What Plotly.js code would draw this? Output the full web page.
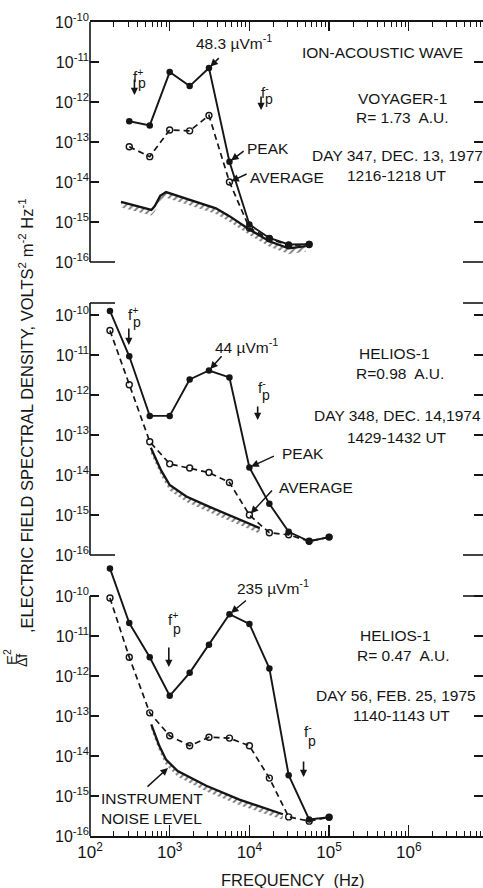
<!DOCTYPE html>
<html><head><meta charset="utf-8">
<script src="https://cdn.plot.ly/plotly-3.0.1.min.js"></script>
<style>html,body{margin:0;padding:0;background:#fff;overflow:hidden}#chart{width:483px;height:888px}</style>
</head><body><div id="chart"></div>
<script>
// ---------------- DATA ----------------
// Panel 1: Voyager-1, Dec 13 1977
const VOY_F      = [311, 562, 1000, 1780, 3110, 5620, 10000, 17800, 31100, 56200];
const VOY_PEAK   = [3.3e-13, 2.6e-13, 5.6e-12, 2.5e-12, 7.1e-12, 3.2e-14, 8.7e-16, 4.0e-16, 2.75e-16, 2.8e-16];
const VOY_AVG    = [7.6e-14, 4.3e-14, 2.0e-13, 1.9e-13, 4.6e-13, 1.0e-14, 7.1e-16, 3.8e-16, 2.6e-16, 2.75e-16];
const VOY_NOISE_F = [245, 590, 650, 760, 900, 1780, 3800, 5620, 10000, 17800, 31100, 51000];
const VOY_NOISE   = [3.2e-15, 2.0e-15, 2.5e-15, 4.5e-15, 5.6e-15, 3.6e-15, 2.2e-15, 1.4e-15, 6.5e-16, 3.3e-16, 2.2e-16, 2.5e-16];
// Panel 2: Helios-1, Dec 14 1974
const HA_F      = [178, 311, 562, 1000, 1780, 3110, 5620, 10000, 17800, 31100, 56200, 100000];
const HA_PEAK   = [1.26e-10, 9.3e-12, 3.0e-13, 3.0e-13, 2.45e-12, 4.1e-12, 2.75e-12, 1.55e-14, 1.9e-15, 3.8e-16, 2.2e-16, 2.8e-16];
const HA_AVG    = [4.1e-11, 1.8e-12, 6.8e-14, 1.9e-14, 1.5e-14, 1.15e-14, 6.5e-15, 1.0e-15, 3.6e-16, 3.2e-16, 2.2e-16, 2.8e-16];
const HA_NOISE_F = [580, 780, 1000, 1620, 3160, 6170, 13500];
const HA_NOISE   = [4.8e-14, 1.3e-14, 5.6e-15, 2.9e-15, 1.6e-15, 9.1e-16, 4.7e-16];
// Panel 3: Helios-1, Feb 25 1975
const HB_F      = [178, 311, 562, 1000, 1780, 3110, 5620, 10000, 17800, 31100, 56200, 100000];
const HB_PEAK   = [4.9e-10, 2.1e-11, 2.95e-12, 3.2e-13, 1.2e-12, 6.0e-12, 3.5e-11, 2.0e-11, 1.55e-12, 3.3e-15, 2.6e-16, 2.95e-16];
const HB_AVG    = [8.9e-11, 2.95e-12, 1.2e-13, 3.2e-14, 1.8e-14, 2.95e-14, 2.8e-14, 1.8e-14, 2.8e-15, 3.0e-16, 2.35e-16, 2.95e-16];
const HB_NOISE_F = [587, 740, 900, 1260, 2880, 7500, 26300];
const HB_NOISE   = [6.2e-14, 1.8e-14, 8.1e-15, 4.2e-15, 1.8e-15, 8.1e-16, 3.5e-16];
// plasma frequency markers (Hz): [top, middle, bottom]
const FP_PLUS  = [361, 307, 975];
const FP_MINUS = [14000, 12700, 47800];
// tick labels
const X_TICKS = [1e2, 1e3, 1e4, 1e5, 1e6];
const X_TICKTEXT = ['10<sup>2</sup>', '10<sup>3</sup>', '10<sup>4</sup>', '10<sup>5</sup>', '10<sup>6</sup>'];
const Y_TICKS = [1e-16, 1e-15, 1e-14, 1e-13, 1e-12, 1e-11, 1e-10];
const Y_TICKTEXT = ['10<sup>-16</sup>', '10<sup>-15</sup>', '10<sup>-14</sup>', '10<sup>-13</sup>', '10<sup>-12</sup>', '10<sup>-11</sup>', '10<sup>-10</sup>'];

// ---------------- GEOMETRY ----------------
const W = 483, H = 888, ML = 90, MR = 0, MT = 22, MB = 52;
const PW = W - ML - MR, PH = H - MT - MB;
const DECX = 79.7, DECY = 40;
const px = p => (p - ML) / PW;
const py = p => (H - MB - p) / PH;
const XR = [2, 2 + PW / DECX];
const FONT = 'Liberation Sans, Arial, sans-serif';
const INK = '#151515';
const HATCH = Math.pow(10, -0.14);
const TS = 15.5; // panel text size

const MINOR = [];
for (let d = 1e2; d < 1e7; d *= 10) for (let k = 2; k <= 9; k++) MINOR.push(k * d);

const panels = [
  {xa: 'x',  ya: 'y',  f: VOY_F, peak: VOY_PEAK, avg: VOY_AVG, nf: VOY_NOISE_F, n: VOY_NOISE},
  {xa: 'x2', ya: 'y2', f: HA_F,  peak: HA_PEAK,  avg: HA_AVG,  nf: HA_NOISE_F,  n: HA_NOISE},
  {xa: 'x3', ya: 'y3', f: HB_F,  peak: HB_PEAK,  avg: HB_AVG,  nf: HB_NOISE_F,  n: HB_NOISE}
];

const traces = [];
panels.forEach(p => {
  traces.push({x: p.nf, y: p.n.map(v => v * HATCH), xaxis: p.xa, yaxis: p.ya, mode: 'lines',
    line: {width: 0, color: 'rgba(0,0,0,0)'}, hoverinfo: 'skip', showlegend: false});
  traces.push({x: p.nf, y: p.n, xaxis: p.xa, yaxis: p.ya, mode: 'lines', fill: 'tonexty',
    fillcolor: 'rgba(0,0,0,0)',
    fillpattern: {shape: '/', fgcolor: '#000', size: 5, solidity: 0.4, fillmode: 'overlay'},
    line: {width: 2.3, color: INK}, showlegend: false});
  traces.push({x: p.f, y: p.avg, xaxis: p.xa, yaxis: p.ya, mode: 'lines+markers', cliponaxis: false,
    line: {width: 1.7, color: INK, dash: '6px,4px'},
    marker: {symbol: 'circle-open', size: 6, color: INK, line: {width: 1.4, color: INK}}, showlegend: false});
  traces.push({x: p.f, y: p.peak, xaxis: p.xa, yaxis: p.ya, mode: 'lines+markers', cliponaxis: false,
    line: {width: 1.9, color: INK},
    marker: {symbol: 'circle', size: 6.5, color: INK}, showlegend: false});
});

const tickFont = {family: FONT, size: 16, color: INK};
const yBase = {type: 'log', tickvals: Y_TICKS, ticktext: Y_TICKTEXT, ticks: 'inside', ticklen: 9, tickwidth: 1.4,
  tickcolor: INK, mirror: 'ticks', showline: false, showgrid: false, zeroline: false, tickfont: tickFont};
const xBase = {type: 'log', range: XR, domain: [0, 1], showgrid: false, zeroline: false, tickvals: X_TICKS,
  showline: true, linewidth: 1.6, linecolor: INK, ticks: 'inside', tickwidth: 1.3, tickcolor: INK};

const Dtop = [py(262), 1], Dmid = [py(555), py(303)], Dbot = [0, py(564)];
const layout = {
  width: W, height: H, margin: {l: ML, r: MR, t: MT, b: MB},
  paper_bgcolor: '#fff', plot_bgcolor: 'rgba(0,0,0,0)', showlegend: false,
  font: {family: FONT, color: INK},
  xaxis: Object.assign({}, xBase, {anchor: 'y', side: 'top', ticklen: 9, showticklabels: false,
    minor: {ticks: 'inside', ticklen: 5, tickwidth: 1, tickcolor: INK, tickvals: MINOR, showgrid: false}}),
  xaxis2: {type: 'log', range: XR, anchor: 'y2', visible: false},
  xaxis3: Object.assign({}, xBase, {anchor: 'y3', side: 'bottom', ticklen: 11, ticktext: X_TICKTEXT,
    tickfont: {family: FONT, size: 17, color: INK},
    minor: {ticks: 'inside', ticklen: 5, tickwidth: 1, tickcolor: INK, tickvals: MINOR, showgrid: false}}),
  yaxis: Object.assign({}, yBase, {domain: Dtop, anchor: 'x', range: [-16, -16 + (262 - 22) / DECY]}),
  yaxis2: Object.assign({}, yBase, {domain: Dmid, anchor: 'x2', range: [-16, -16 + (555 - 303) / DECY]}),
  yaxis3: Object.assign({}, yBase, {domain: Dbot, anchor: 'x3', range: [-16, -16 + (836 - 564) / DECY]}),
  shapes: [], annotations: []
};

// axis frame pieces
const ln = (x0, y0, x1, y1) => ({type: 'line', xref: 'paper', yref: 'paper', x0: px(x0), y0: py(y0), x1: px(x1), y1: py(y1),
  line: {color: INK, width: 1.6}});
layout.shapes.push(
  ln(90, 262, 90, 22), ln(90, 262, 115, 262), ln(463, 262, 483, 262),
  ln(90, 555, 90, 303), ln(90, 555, 115, 555), ln(90, 303, 115, 303), ln(463, 555, 483, 555), ln(463, 303, 483, 303),
  ln(90, 836, 90, 596), ln(463, 596, 483, 596)
);

const A = layout.annotations;
const txt = (text, x, y, o) => A.push(Object.assign({xref: 'paper', yref: 'paper', x: px(x), y: py(y), text: text,
  showarrow: false, xanchor: 'center', yanchor: 'middle', font: {family: FONT, size: TS, color: INK}}, o || {}));
const arr = (xa, ya, f, v, tail, tip) => A.push({xref: xa, yref: ya, x: Math.log10(f), y: Math.log10(v), text: '',
  showarrow: true, ax: tail[0] - tip[0], ay: tail[1] - tip[1], arrowhead: 2, arrowsize: 1, arrowwidth: 1.5,
  arrowcolor: INK, standoff: 2});
const fp = (xa, f, sign, fy, a0, a1) => {
  const lx = Math.log10(f);
  A.push({xref: xa, yref: 'paper', x: lx, y: py(fy), xshift: 4, text: 'f<sup>' + sign + '</sup>', showarrow: false,
    font: {family: FONT, size: 15, color: INK}});
  A.push({xref: xa, yref: 'paper', x: lx, y: py(fy + 9), xshift: 8, text: 'p', showarrow: false,
    font: {family: FONT, size: 14, color: INK}});
  A.push({xref: xa, yref: 'paper', x: lx, y: py(a1), ax: 0, ay: a0 - a1, text: '', showarrow: true,
    arrowhead: 2, arrowsize: 0.9, arrowwidth: 1.6, arrowcolor: INK});
};

// panel texts
txt('ION-ACOUSTIC WAVE', 382, 53);
txt('VOYAGER-1', 402, 98);
txt('R= 1.73  A.U.', 402, 117);
txt('DAY 347, DEC. 13, 1977', 397, 155);
txt('1216-1218 UT', 397, 175);
txt('48.3 µVm<sup>-1</sup>', 234, 42);
txt('PEAK', 245, 148, {xanchor: 'left'});
txt('AVERAGE', 248, 177, {xanchor: 'left'});

txt('HELIOS-1', 394, 353);
txt('R=0.98  A.U.', 400, 373);
txt('DAY 348, DEC. 14,1974', 397, 415);
txt('1429-1432 UT', 397, 437);
txt('44 µVm<sup>-1</sup>', 246, 346);
txt('PEAK', 280, 453, {xanchor: 'left'});
txt('AVERAGE', 277, 487, {xanchor: 'left'});

txt('HELIOS-1', 395, 635);
txt('R= 0.47  A.U.', 403, 655);
txt('DAY 56, FEB. 25, 1975', 396, 695);
txt('1140-1143 UT', 401, 715);
txt('235 µVm<sup>-1</sup>', 273, 587);
txt('INSTRUMENT<br>NOISE LEVEL', 99, 808.5, {xanchor: 'left', align: 'left'});

// label arrows
arr('x', 'y', VOY_F[4], VOY_PEAK[4], [218, 57], [206.7, 68.3]);
arr('x', 'y', VOY_F[5], VOY_PEAK[5], [244, 151], [228.3, 162.7]);
arr('x', 'y', VOY_F[5], VOY_AVG[5], [247, 174], [228.3, 182.7]);
arr('x2', 'y2', HA_F[5], HA_PEAK[5], [223, 355], [209, 370.7]);
arr('x2', 'y2', HA_F[7], HA_PEAK[7], [276, 455], [250, 467]);
arr('x2', 'y2', HA_F[7], HA_AVG[7], [274, 489], [250, 515]);
arr('x3', 'y3', HB_F[6], HB_PEAK[6], [248, 599], [230, 614]);
A.push({xref: 'paper', yref: 'paper', x: px(168), y: py(768), ax: 146 - 168, ay: 788 - 768, text: '',
  showarrow: true, arrowhead: 2, arrowsize: 1, arrowwidth: 1.5, arrowcolor: INK});

// plasma frequency markers
fp('x', FP_PLUS[0], '+', 64, 78, 95);
fp('x', FP_MINUS[0], '-', 80, 95, 110);
fp('x2', FP_PLUS[1], '+', 313, 327, 345);
fp('x2', FP_MINUS[1], '-', 386, 405, 420);
fp('x3', FP_PLUS[2], '+', 630, 646, 667);
fp('x3', FP_MINUS[2], '-', 742, 760, 777);

// axis titles
txt('FREQUENCY  (Hz)', 293, 880, {font: {family: FONT, size: 16.5, color: INK}});
txt(',ELECTRIC FIELD SPECTRAL DENSITY, VOLTS<sup>2</sup> m<sup>-2</sup> Hz<sup>-1</sup>', 26, 416,
  {textangle: -90, font: {family: FONT, size: 16.5, color: INK}});
txt('E<sup>2</sup>', 10, 657, {textangle: -90, font: {family: FONT, size: 15, color: INK}});
txt('Δf', 22, 661, {textangle: -90, font: {family: FONT, size: 14, color: INK}});

Plotly.newPlot('chart', traces, layout, {staticPlot: true, displayModeBar: false});
</script>
</body></html>
